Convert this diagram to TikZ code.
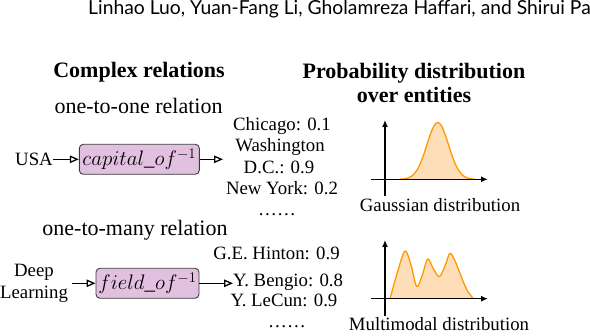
\RequirePackage{fix-cm}
\documentclass[tikz,border=0pt]{standalone}
\usepackage[no-math]{fontspec}
\setmainfont{Liberation Serif}
\newfontfamily\hdrfont{Lato}
\usetikzlibrary{arrows.meta}
\definecolor{relfill}{RGB}{226,192,224}
\definecolor{reldraw}{RGB}{60,60,60}
\definecolor{curveline}{RGB}{255,153,0}
\definecolor{curvefill}{RGB}{253,222,184}
\tikzset{
  lbl/.style={inner sep=0pt, font=\fontsize{22}{26}\selectfont},
  hdr/.style={inner sep=0pt, font=\fontsize{22}{24.5}\selectfont\bfseries, align=center},
  ent/.style={inner sep=0pt, font=\fontsize{18.8}{21.5}\selectfont},
  relbox/.style={draw=reldraw, fill=relfill, rounded corners=4pt, line width=0.9pt,
    minimum height=30pt, inner sep=1pt, font=\fontsize{21}{24}\selectfont},
  flow/.style={line width=1.3pt, -{Triangle[open,length=9pt,width=7.5pt,line width=1.3pt]}},
  axis/.style={line width=1.5pt, -{Latex[length=7pt,width=6pt]}},
  dist/.style={draw=curveline, fill=curvefill, line width=1.3pt, line join=round},
}
\begin{document}
\begin{tikzpicture}[x=1pt,y=-1pt]
\useasboundingbox (0,0) rectangle (590,336);
% page header
\node[inner sep=0pt, anchor=base west, font=\hdrfont\fontsize{19.3}{22}\selectfont] (author) at (88,15)
  {Linhao Luo, Yuan-Fang Li, Gholamreza Haffari, and Shirui Pan};
% headings
\node[hdr] (hcr) at (139,72) {Complex relations};
\node[hdr] (hpd) at (414,83) {Probability distribution\\over entities};
% one-to-one
\node[lbl] (r1) at (138.5,106) {one-to-one relation};
\node[relbox, minimum width=120pt] (b1) at (139.3,159.3) {$capital\_of^{-1}$};
\node[ent, anchor=east] (usa) at (53,159.3) {USA};
\coordinate (t1) at (223,159.3);
\draw[flow] (usa) -- (b1);
\draw[flow] (b1) -- (t1);
\node[ent, anchor=base] (c1) at (282,130.5) {Chicago: 0.1};
\node[ent, anchor=base] (c2) at (280,152) {Washington};
\node[ent, anchor=base] (c3) at (279,173.5) {D.C.: 0.9};
\node[ent, anchor=base] (c4) at (282,195) {New York: 0.2};
\node[ent, anchor=base] (c5) at (277,215.5) {\ldots\ldots};
% one-to-many
\node[lbl] (r2) at (135,230) {one-to-many relation};
\node[relbox, minimum width=103pt] (b2) at (147.5,283.3) {$field\_of^{-1}$};
\node[ent, align=center] (dl) at (34,283.3) {Deep\\Learning};
\node[ent, anchor=base] (e1) at (276.5,259.3) {G.E. Hinton: 0.9};
\node[ent, anchor=base west] (e2) at (233,286.7) {Y. Bengio: 0.8};
\node[ent, anchor=base] (e3) at (284,306.7) {Y. LeCun: 0.9};
\node[ent, anchor=base] (e4) at (287,328) {\ldots\ldots};
\draw[flow] ([xshift=4pt]dl.east) -- (b2);
\draw[flow] (b2) -- (b2 -| e2.west);
% Gaussian plot
\path[dist] plot[domain=400:475, samples=80] (\x, {179.3-56.6*exp(-((\x-437.7)/10.9)^2/2)});
\draw[axis] (371,179.3) coordinate (gxl) -- (488,179.3) coordinate (gxr);
\draw[axis] (385,196) coordinate (gyb) -- (385,120) coordinate (gyt);
\node[ent, anchor=base] (gl) at (440,212) {Gaussian distribution};
% Multimodal plot
\path[dist] plot[smooth, tension=0.55] coordinates {
  (390,298.7) (397.5,272) (405,251) (411,265) (416.7,286.5) (422,276)
  (427.7,259) (433,268) (439.3,276.7) (445,266) (450,253.3) (455.5,262)
  (461,276) (467,290) (473.3,298.7)};
\draw[axis] (371,298.7) coordinate (mxl) -- (488,298.7) coordinate (mxr);
\draw[axis] (385,316) coordinate (myb) -- (385,240) coordinate (myt);
\node[ent, anchor=base] (ml) at (439,331) {Multimodal distribution};
\end{tikzpicture}
\end{document}
